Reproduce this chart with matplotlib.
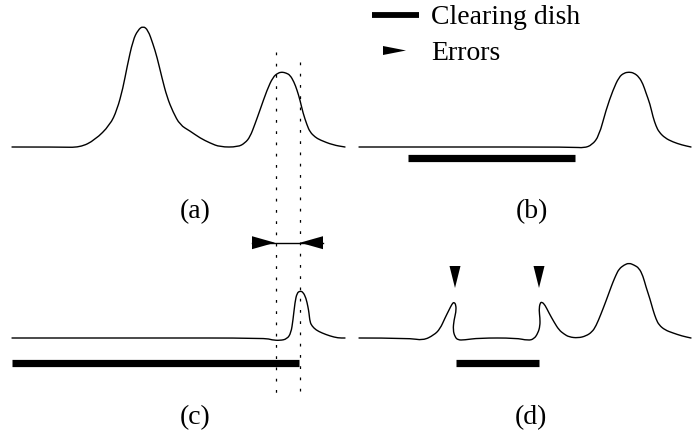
import matplotlib
matplotlib.use("Agg")
import matplotlib.pyplot as plt
from matplotlib.path import Path
from matplotlib.patches import PathPatch, Polygon

# ---- data (pixel coordinates) ----
curve_a_x = [12, 60, 80, 95, 110, 117, 123, 127, 133, 138, 143, 148, 153, 157, 162, 167, 173, 180, 190, 200, 210, 220, 238,
             245, 250, 255, 260, 267, 273, 278, 282, 286, 290, 294, 297, 300, 303, 307, 310, 315, 320, 333, 345]
curve_a_y = [147, 147, 147.5, 140, 125, 110, 88, 67, 40, 30, 26, 30, 44, 57, 78, 97, 112, 125, 131, 138, 143, 147, 147,
             143, 137, 124, 110, 90, 77, 73, 72, 73, 75, 82, 90, 100, 113, 125, 132, 137, 140, 145, 147]

curve_b_x = [359, 450, 573, 584, 592, 599, 606, 613, 619, 624, 629, 634, 639, 643, 646, 650, 653, 656, 659, 665, 673, 682, 691]
curve_b_y = [147, 147, 147, 148, 145, 136, 110, 90, 77, 73, 72, 73, 77, 84, 93, 104, 117, 126, 132, 138, 142, 145, 147]

curve_c_x = [12, 150, 265, 272, 280, 287, 291, 293, 295, 297, 300, 303, 306, 308, 309, 310, 312, 316, 322, 330, 338, 345]
curve_c_y = [338, 338, 338, 340, 340.5, 339, 333, 320, 302, 293, 291, 292, 298, 307, 313, 322, 326, 330, 333, 336, 338, 338]

curve_d_x = [359, 409, 423, 434, 440, 445, 449, 452, 454, 456, 456, 454, 453, 455, 458, 464, 479, 516, 528, 534, 538, 540, 540,
             539, 540, 542, 545, 549, 554, 559, 564, 569, 578, 586, 592, 596, 601, 606, 610, 613, 616, 619, 624, 629, 634,
             639, 643, 646, 650, 653, 656, 659, 665, 673, 682, 691]
curve_d_y = [338, 338, 340.5, 335, 329, 318, 310, 304, 302, 305, 312, 320, 330, 337, 340, 340, 338, 338, 340.5, 339, 333, 326, 318,
             310, 303, 302, 305, 313, 322, 330, 334, 337, 338, 336, 332, 326, 314, 301, 290, 282, 275, 269, 265, 263, 265,
             268, 276, 287, 299, 310, 319, 325, 330, 333, 336, 338]

bars = [((408, 575), 158.0), ((12, 299), 362.5), ((456, 539), 362.5)]
dotted_x = [275.5, 299.5]
dotted_top = [52, 62]
dotted_bottom = 398
span_x = (252, 323)
span_y = 242.7
error_x = [455, 539]
error_y = (266, 288)

panel_labels = ["(a)", "(b)", "(c)", "(d)"]
panel_label_pos = [(195, 212), (532, 212), (195, 418), (531, 418)]
legend_labels = ["Clearing dish", "Errors"]

# ---- drawing ----
W, H = 692, 432
fig = plt.figure(figsize=(W / 100, H / 100), dpi=100)
ax = fig.add_axes([0, 0, 1, 1])
ax.set_xlim(0, W)
ax.set_ylim(H, 0)
ax.axis("off")

def smooth_path(xs, ys):
    pts = list(zip(xs, ys))
    verts = [pts[0]]
    codes = [Path.MOVETO]
    for i in range(1, len(pts) - 1):
        mid = ((pts[i][0] + pts[i + 1][0]) / 2, (pts[i][1] + pts[i + 1][1]) / 2)
        verts += [pts[i], mid]
        codes += [Path.CURVE3, Path.CURVE3]
    verts.append(pts[-1])
    codes.append(Path.LINETO)
    return Path(verts, codes)

for xs, ys in [(curve_a_x, curve_a_y), (curve_b_x, curve_b_y), (curve_c_x, curve_c_y), (curve_d_x, curve_d_y)]:
    ax.add_patch(PathPatch(smooth_path(xs, ys), facecolor="none", edgecolor="black", lw=1.0,
                           capstyle="round", joinstyle="round"))

for (x0, x1), y in bars:
    ax.plot([x0, x1], [y, y], color="black", lw=5.2, solid_capstyle="butt")

for x, top in zip(dotted_x, dotted_top):
    ax.plot([x, x], [top, dotted_bottom], color="black", lw=0.9, linestyle=(0, (2.2, 6.8)))

# double arrow in (c)
ax.plot([span_x[0], span_x[1]], [span_y, span_y], color="black", lw=1.0)
tri_w, tri_h = 23, 6.5
ax.add_patch(Polygon([(span_x[0], span_y - tri_h), (span_x[0] + tri_w, span_y), (span_x[0], span_y + tri_h)],
                     closed=True, color="black", lw=0))
ax.add_patch(Polygon([(span_x[1], span_y - tri_h), (span_x[1] - tri_w, span_y), (span_x[1], span_y + tri_h)],
                     closed=True, color="black", lw=0))

# error markers in (d)
for x in error_x:
    ax.add_patch(Polygon([(x - 5.5, error_y[0]), (x + 5.5, error_y[0]), (x, error_y[1])],
                         closed=True, color="black", lw=0))

font = dict(family=["Liberation Serif", "DejaVu Serif"], fontsize=20, color="black")
for lab, (x, y) in zip(panel_labels, panel_label_pos):
    ax.text(x, y, lab, ha="center", va="center", **font)

# legend
ax.plot([372, 419], [15, 15], color="black", lw=4.2, solid_capstyle="butt")
ax.add_patch(Polygon([(383, 46), (406, 50.5), (383, 55)], closed=True, color="black", lw=0))
ax.text(431, 17, legend_labels[0], ha="left", va="center", **font)
ax.text(431, 53, legend_labels[1], ha="left", va="center", **font)

fig.savefig("out.png", dpi=100)
